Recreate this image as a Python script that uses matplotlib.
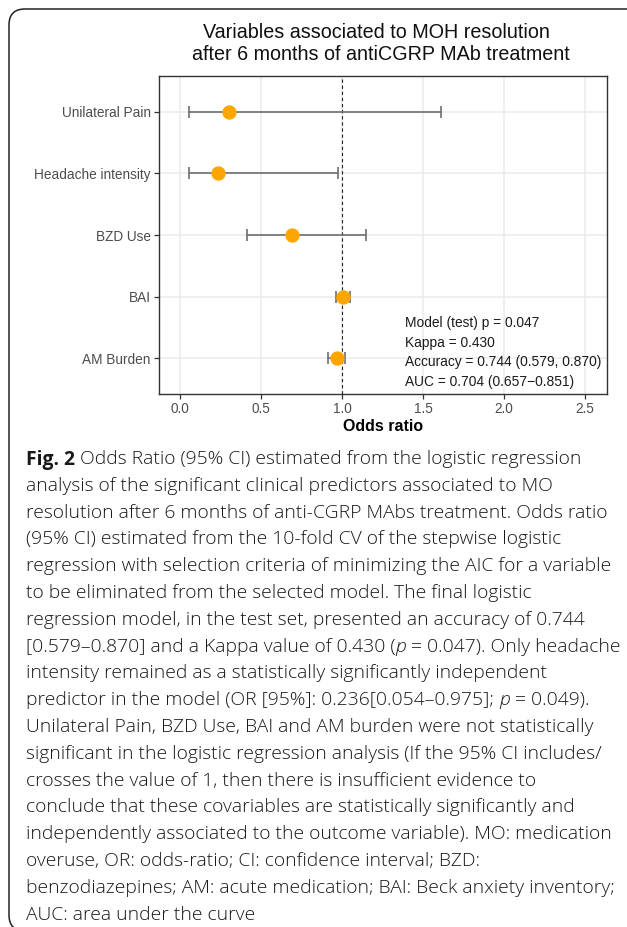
import matplotlib
matplotlib.use("Agg")
import matplotlib.pyplot as plt
from matplotlib.patches import FancyBboxPatch
from matplotlib.transforms import IdentityTransform

# ---- data ----
variables = ["AM Burden", "BAI", "BZD Use", "Headache intensity", "Unilateral Pain"]
odds_ratio = [0.967, 1.005, 0.69, 0.236, 0.30]
ci_low = [0.915, 0.96, 0.415, 0.054, 0.055]
ci_high = [1.02, 1.05, 1.15, 0.975, 1.61]
x_ticks = [0.0, 0.5, 1.0, 1.5, 2.0, 2.5]

stats_lines = [
    "Model (test) p = 0.047",
    "Kappa = 0.430",
    "Accuracy = 0.744 (0.579, 0.870)",
    "AUC = 0.704 (0.657\u22120.851)",
]

title_lines = ["Variables associated to MOH resolution",
               "after 6 months of antiCGRP MAb treatment"]

# caption lines as (text, style) runs; style: "n" normal, "b" bold, "i" italic
caption = [
    [("Fig. 2", "b"), (" Odds Ratio (95% CI) estimated from the logistic regression", "n")],
    [("analysis of the significant clinical predictors associated to MO", "n")],
    [("resolution after 6 months of anti-CGRP MAbs treatment. Odds ratio", "n")],
    [("(95% CI) estimated from the 10-fold CV of the stepwise logistic", "n")],
    [("regression with selection criteria of minimizing the AIC for a variable", "n")],
    [("to be eliminated from the selected model. The final logistic", "n")],
    [("regression model, in the test set, presented an accuracy of 0.744", "n")],
    [("[0.579\u20130.870] and a Kappa value of 0.430 (", "n"), ("p", "i"),
     (" = 0.047). Only headache", "n")],
    [("intensity remained as a statistically significantly independent", "n")],
    [("predictor in the model (OR [95%]: 0.236[0.054\u20130.975]; ", "n"), ("p", "i"),
     (" = 0.049).", "n")],
    [("Unilateral Pain, BZD Use, BAI and AM burden were not statistically", "n")],
    [("significant in the logistic regression analysis (If the 95% CI includes/", "n")],
    [("crosses the value of 1, then there is insufficient evidence to", "n")],
    [("conclude that these covariables are statistically significantly and", "n")],
    [("independently associated to the outcome variable). MO: medication", "n")],
    [("overuse, OR: odds-ratio; CI: confidence interval; BZD:", "n")],
    [("benzodiazepines; AM: acute medication; BAI: Beck anxiety inventory;", "n")],
    [("AUC: area under the curve", "n")],
]

W, H = 627, 927
plt.rcParams["font.family"] = ["Liberation Sans", "DejaVu Sans"]

fig = plt.figure(figsize=(W / 100, H / 100), dpi=100)
fig.patch.set_facecolor("white")

# outer frame (open to the right and bottom, like the cropped figure panel)
frame = FancyBboxPatch((9, -4), 700, 922, boxstyle="round,pad=0,rounding_size=16",
                       transform=IdentityTransform(), facecolor="none",
                       edgecolor="#222222", linewidth=1.1)
fig.add_artist(frame)

ax = fig.add_axes([159 / W, 1 - 394 / H, (607 - 159) / W, (394 - 76) / H])
ypos = list(range(len(variables)))

ax.grid(True, color="#ebebeb", linewidth=1.1, zorder=0)
ax.set_axisbelow(True)
ax.axvline(1.0, color="#222222", linestyle=(0, (3, 2.5)), linewidth=0.8, zorder=1)

xerr = [[o - l for o, l in zip(odds_ratio, ci_low)],
        [h - o for o, h in zip(odds_ratio, ci_high)]]
ax.errorbar(odds_ratio, ypos, xerr=xerr, fmt="none", ecolor="#6e6e6e",
            elinewidth=1.2, capsize=4.3, capthick=1.2, zorder=2)
ax.plot(odds_ratio, ypos, "o", color="#ffa500", markersize=9.3, zorder=3)

ax.set_xlim(-0.13, 2.636)
ax.set_ylim(-0.585, len(variables) - 1 + 0.585)
ax.set_xticks(x_ticks)
ax.set_xticklabels([f"{t:.1f}" for t in x_ticks])
ax.set_yticks(ypos)
ax.set_yticklabels(variables)
ax.tick_params(axis="both", labelsize=9.8, labelcolor="#4d4d4d", color="#333333",
               length=3.5, width=0.9, pad=2.5)
for s in ax.spines.values():
    s.set_color("#333333")
    s.set_linewidth(1.0)
ax.set_xlabel("Odds ratio", fontsize=11.5, fontweight="bold", labelpad=2)

ly = 0.57
for line in stats_lines:
    ax.text(1.39, ly, line, fontsize=9.9, color="#1a1a1a", va="center", ha="left")
    ly -= 0.318

for line, tx, ty in zip(title_lines, [376, 381], [33, 54]):
    fig.text(tx / W, 1 - ty / H, line, ha="center", va="center", fontsize=14.2,
             color="#111111")

# ---- caption below the chart ----
cap_font = ["Open Sans", "DejaVu Sans"]
cap_weight = 300
renderer = fig.canvas.get_renderer()

# size the caption so its widest line spans the same width as in the figure
widest = 0
for runs in caption:
    probe = fig.text(0, 0, "".join(r[0] for r in runs), fontsize=10,
                     family=cap_font, fontweight=cap_weight)
    widest = max(widest, probe.get_window_extent(renderer).width)
    probe.remove()
cap_size = 10 * 592 / widest

y = H - 457
for runs in caption:
    x = 26
    for txt, style in runs:
        kw = dict(fontsize=cap_size, family=cap_font, color="#1a1718",
                  fontweight=cap_weight, transform=IdentityTransform(),
                  va="center_baseline", ha="left")
        if style == "b":
            kw["fontweight"] = "bold"
        elif style == "i":
            kw["fontstyle"] = "italic"
        t = fig.text(x, y, txt, **kw)
        x = t.get_window_extent(renderer).x1
    y -= 26.8

fig.savefig("out.png", dpi=100)
